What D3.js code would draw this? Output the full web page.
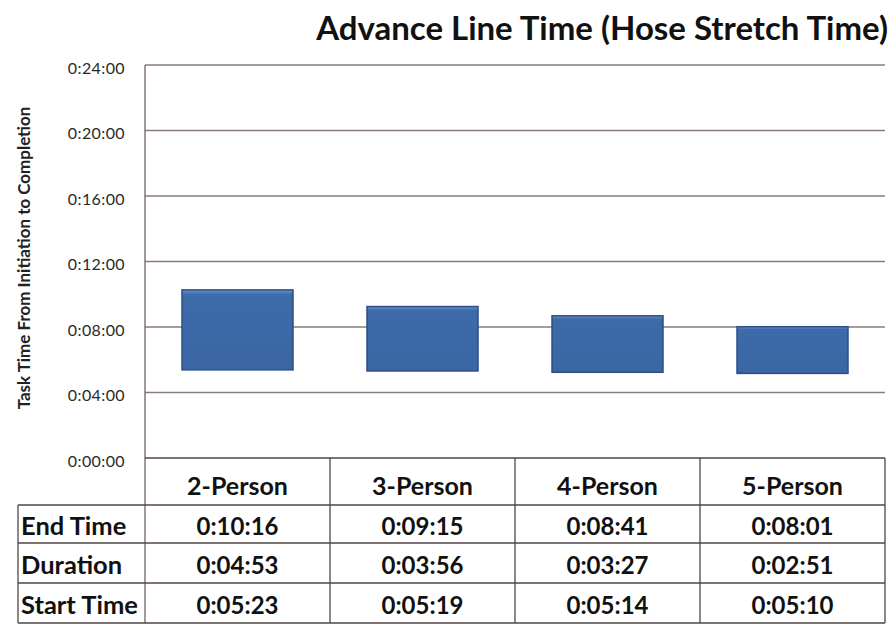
<!DOCTYPE html>
<html><head><meta charset="utf-8">
<script src="https://cdn.jsdelivr.net/npm/d3@7"></script>
<style>body{margin:0;background:#fff;} svg{display:block;}</style>
</head><body>
<svg id="c" width="895" height="625"></svg>
<script>
const categories = ["2-Person","3-Person","4-Person","5-Person"];
const startTimes = ["0:05:23","0:05:19","0:05:14","0:05:10"];
const endTimes = ["0:10:16","0:09:15","0:08:41","0:08:01"];
const durations = ["0:04:53","0:03:56","0:03:27","0:02:51"];
const rowLabels = ["End Time","Duration","Start Time"];
const yTicks = ["0:00:00","0:04:00","0:08:00","0:12:00","0:16:00","0:20:00","0:24:00"];
const title = "Advance Line Time (Hose Stretch Time)";
const yTitle = "Task Time From Initiation to Completion";

const toSec = s => { const p = s.split(":").map(Number); return p[0]*3600+p[1]*60+p[2]; };
const FONT = "Lato, 'Open Sans', sans-serif";

const svg = d3.select("#c");
const L = 145, R = 885, T = 65, B = 458;
const y = d3.scaleLinear().domain([0, toSec("0:24:00")]).range([B, T]);
const x = d3.scaleBand().domain(categories).range([L, R]).paddingInner(0.4).paddingOuter(0.2);
const col = d3.scaleBand().domain(categories).range([L, R]);

// gridlines
const tickVals = yTicks.map(toSec);
svg.append("g").selectAll("line").data(tickVals.filter(v => v > 0)).join("line")
  .attr("x1", L).attr("x2", R).attr("y1", d => y(d)).attr("y2", d => y(d))
  .attr("stroke", "#8a7d76").attr("stroke-width", 1.3);

// y axis
const yAxis = d3.axisLeft(y).tickValues(tickVals).tickFormat((d, i) => yTicks[i]).tickSize(0).tickPadding(20);
const ga = svg.append("g").attr("transform", `translate(${L},0)`).call(yAxis);
ga.select(".domain").remove();
ga.selectAll("text").attr("font-family", FONT).attr("font-size", 16).attr("letter-spacing", 0.4)
  .attr("fill", "#2a2a2a").attr("dy", "0.5em");
svg.append("line").attr("x1", L).attr("x2", L).attr("y1", T).attr("y2", 623).attr("stroke", "#6d6360").attr("stroke-width", 1.3);

// y title
const yt = svg.append("text").attr("transform", `translate(30,258) rotate(-90)`)
  .attr("text-anchor", "middle").attr("font-family", FONT).attr("font-weight", "bold")
  .attr("font-size", 13).attr("fill", "#222").text(yTitle);
yt.attr("font-size", 13 * 303 / yt.node().getComputedTextLength());

// bars
const defs = svg.append("defs");
const grad = defs.append("linearGradient").attr("id", "bg").attr("x1", 0).attr("x2", 0).attr("y1", 0).attr("y2", 1);
grad.append("stop").attr("offset", 0).attr("stop-color", "#6a93c9");
grad.append("stop").attr("offset", 0.06).attr("stop-color", "#3d6aa8");
grad.append("stop").attr("offset", 1).attr("stop-color", "#3a66a4");
const bars = categories.map((c, i) => ({c, s: toSec(startTimes[i]), e: toSec(endTimes[i])}));
svg.append("g").selectAll("rect").data(bars).join("rect")
  .attr("x", d => x(d.c)).attr("width", x.bandwidth())
  .attr("y", d => y(d.e)).attr("height", d => y(d.s) - y(d.e))
  .attr("fill", "url(#bg)").attr("stroke", "#2b4f86").attr("stroke-width", 1.5);

// title
const tt = svg.append("text").attr("x", 888).attr("y", 40).attr("text-anchor", "end")
  .attr("font-family", FONT).attr("font-weight", "bold").attr("font-size", 28).attr("fill", "#111").text(title);
const w = tt.node().getComputedTextLength();
tt.attr("font-size", 28 * 572 / w);

// table
const rowsY = [458, 505, 543, 583, 623];
const lineC = "#4f4644";
const tg = svg.append("g");
tg.append("line").attr("x1", L).attr("x2", R).attr("y1", rowsY[0]).attr("y2", rowsY[0]).attr("stroke", lineC).attr("stroke-width", 1.5);
rowsY.slice(1).forEach(yy => tg.append("line").attr("x1", 18).attr("x2", R).attr("y1", yy).attr("y2", yy).attr("stroke", lineC).attr("stroke-width", 1.5));
categories.forEach(c => {
  tg.append("line").attr("x1", col(c) + col.bandwidth()).attr("x2", col(c) + col.bandwidth())
    .attr("y1", rowsY[0]).attr("y2", 623).attr("stroke", lineC).attr("stroke-width", 1.3);
});
tg.append("line").attr("x1", 18).attr("x2", 18).attr("y1", rowsY[1]).attr("y2", 623).attr("stroke", lineC).attr("stroke-width", 1.3);

const txt = (xx, yy, s, anchor, size) => tg.append("text").attr("x", xx).attr("y", yy)
  .attr("text-anchor", anchor).attr("dominant-baseline", "central")
  .attr("font-family", FONT).attr("font-weight", "bold").attr("font-size", size).attr("fill", "#111").text(s);

categories.forEach((c, i) => {
  const cx = col(c) + col.bandwidth() / 2;
  txt(cx, (rowsY[0] + rowsY[1]) / 2 + 3, c, "middle", 25);
  txt(cx, (rowsY[1] + rowsY[2]) / 2 + 1, endTimes[i], "middle", 24);
  txt(cx, (rowsY[2] + rowsY[3]) / 2 + 1, durations[i], "middle", 24);
  txt(cx, (rowsY[3] + rowsY[4]) / 2 + 1, startTimes[i], "middle", 24);
});
rowLabels.forEach((r, j) => txt(21, (rowsY[j+1] + rowsY[j+2]) / 2 + 1, r, "start", 25.5));
</script>
</body></html>
